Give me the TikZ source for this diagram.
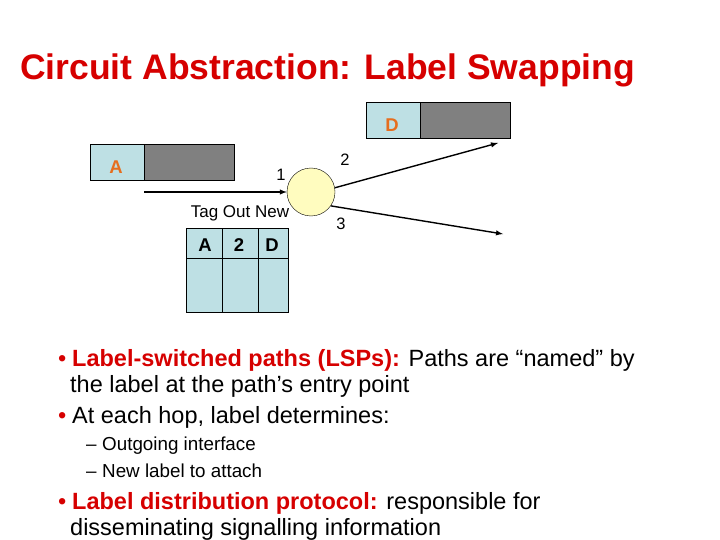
\documentclass[tikz,border=0pt]{standalone}
\usepackage{fontspec}
\setmainfont{Liberation Sans}
\begin{document}
\begin{tikzpicture}[x=1pt,y=-1pt,
  light/.style={draw=black,fill=lbl},
  dark/.style={draw=black,fill=drk},
  arr/.style={-latex,line width=1.4pt},
  port/.style={font=\fontsize{16.5}{18}\selectfont},
  cell/.style={font=\bfseries\fontsize{18.5}{20}\selectfont},
  body/.style={anchor=base west,font=\fontsize{23.5}{28}\selectfont,inner sep=0},
  sub/.style={anchor=base west,font=\fontsize{18.8}{22}\selectfont,inner sep=0}]
\definecolor{lbl}{RGB}{190,224,228}
\definecolor{drk}{RGB}{128,128,128}
\definecolor{ttl}{RGB}{214,0,0}
\definecolor{org}{RGB}{230,110,30}
\useasboundingbox (0,0) rectangle (720,540);
\node[anchor=base west,inner sep=0,text=ttl,font=\bfseries\fontsize{35.5}{40}\selectfont] (title) at (20,80) {Circuit Abstraction: Label Swapping};
% packets
\draw[light] (90,144) rectangle (144,180); \draw[dark] (144,144) rectangle (234,180);
\node[text=org,cell] (pa) at (116,167) {A};
\draw[light] (366,102) rectangle (420,138); \draw[dark] (420,102) rectangle (510,138);
\node[text=org,cell] (pd) at (392,125) {D};
% switch
\node[circle,draw=black,fill=yellow!25,minimum size=48pt,inner sep=0] (sw) at (311,192) {};
\coordinate (in) at (144,192);
\coordinate (o2) at (498,143);
\coordinate (o3) at (503,234);
\draw[arr] (in) -- (sw.west);
\draw[arr] (sw.10) -- (o2);
\draw[arr] (sw.-35) -- (o3);
\node[port] (l1) at (281,175) {1};
\node[port] (l2) at (345,160) {2};
\node[port] (l3) at (341,224) {3};
% table
\node[font=\fontsize{17}{19}\selectfont] (hdr) at (240,213) {Tag Out New};
\foreach \x/\w in {186/36,222/36,258/30}{
  \draw[light] (\x,228) rectangle ++(\w,30);
  \draw[light] (\x,258) rectangle ++(\w,54);
}
\node[cell] (ta) at (205,245) {A};
\node[cell] (t2) at (239,245) {2};
\node[cell] (td) at (272,245) {D};
% text
\node[body,text=ttl] (b1) at (58,366) {•};
\node[body] (t1) at (72,366) {\textcolor{ttl}{\bfseries Label-switched paths (LSPs):} Paths are “named” by};
\node[body] (t1b) at (70,392) {the label at the path’s entry point};
\node[body,text=ttl] (b2) at (58,423) {•};
\node[body] (t2b) at (72,423) {At each hop, label determines:};
\node[sub] (d1) at (86,450) {–};
\node[sub] (s1) at (102,450) {Outgoing interface};
\node[sub] (d2) at (86,477) {–};
\node[sub] (s2) at (102,477) {New label to attach};
\node[body,text=ttl] (b3) at (58,509) {•};
\node[body] (t3) at (72,509) {\textcolor{ttl}{\bfseries Label distribution protocol:} responsible for};
\node[body] (t3b) at (70,535) {disseminating signalling information};
\end{tikzpicture}
\end{document}
